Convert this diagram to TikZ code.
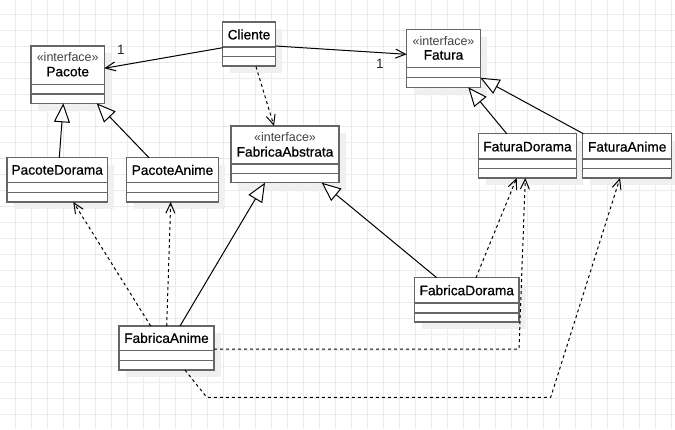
\documentclass[tikz,border=0pt]{standalone}
\usepackage{fontspec}
\setmainfont{Liberation Sans}
\newfontfamily\namefont[FakeBold=0.6]{Liberation Sans}
\usetikzlibrary{arrows.meta,calc}
\tikzset{
  gridline/.style={draw=black!8, line width=1pt},
  shadowfill/.style={fill=black!6},
  classbox/.style={draw=black!60, line width=1.3pt, fill=white, inner sep=0pt, outer sep=0pt},
  divider/.style={draw=black!60, line width=1.3pt},
  cname/.style={font=\namefont\fontsize{13.7}{16}\selectfont, text=black, inner sep=0pt},
  stereo/.style={font=\fontsize{12.5}{14}\selectfont, text=black!75, inner sep=0pt},
  mult/.style={font=\fontsize{13.5}{16}\selectfont, text=black!85, inner sep=0pt},
  assoc/.style={draw=black, line width=1pt, -{Straight Barb[length=10pt,width=9pt]}},
  dep/.style={assoc, dash pattern=on 3pt off 3pt},
  gen/.style={draw=black, line width=1pt, -{Triangle[fill=white,length=19pt,width=16pt]}}
}
% #1 name, #2 x1, #3 y1, #4 x2, #5 y2, #6 first divider, #7 second divider
\newcommand\umlclassbox[7]{%
  \fill[shadowfill] (#2+7,#3+7) rectangle (#4+7,#5+7);
  \node[classbox, anchor=north west, minimum width=#4pt-#2pt, minimum height=#5pt-#3pt] (#1) at (#2,#3) {};
  \draw[divider] (#2,#6) -- (#4,#6);
  \draw[divider] (#2,#7) -- (#4,#7);
}
\begin{document}
\begin{tikzpicture}[x=1pt,y=-1pt]
\useasboundingbox (0,0) rectangle (675,429);
\fill[white] (0,0) rectangle (675,429);
% grid
\foreach \gx in {0,...,41} { \draw[gridline] (15.7+16*\gx,0) -- (15.7+16*\gx,429); }
\foreach \gy in {0,...,26} { \draw[gridline] (0,14.5+16*\gy) -- (675,14.5+16*\gy); }

% classes
\umlclassbox{pacote}{31}{46}{104.3}{103.3}{84.3}{94}
\node[stereo] (pacoteS) at (67.7,56.7) {«interface»};
\node[cname] (pacoteN) at (67.7,71.7) {Pacote};

\umlclassbox{cliente}{222.7}{22}{275.3}{66}{47}{56.7}
\node[cname] (clienteN) at (249,34.5) {Cliente};

\umlclassbox{pdorama}{7}{157.7}{107.3}{202}{182.7}{192.3}
\node[cname] (pdoramaN) at (57.2,170) {PacoteDorama};

\umlclassbox{panime}{126.7}{157.7}{218.3}{202}{182.7}{192.3}
\node[cname] (panimeN) at (172.5,170) {PacoteAnime};

\umlclassbox{fabs}{231}{126}{339}{182.7}{164}{173.3}
\node[stereo] (fabsS) at (285,136.7) {«interface»};
\node[cname] (fabsN) at (285,151.7) {FabricaAbstrata};

\umlclassbox{fatura}{406.7}{29.7}{480.3}{87.3}{67.7}{77.7}
\node[stereo] (faturaS) at (443.5,40.7) {«interface»};
\node[cname] (faturaN) at (443.5,55) {Fatura};

\umlclassbox{fdorama}{478.7}{133.7}{576.3}{178}{159}{168.3}
\node[cname] (fdoramaN) at (527.5,146.7) {FaturaDorama};

\umlclassbox{fanime}{582.7}{133.7}{671.7}{178}{159}{168.3}
\node[cname] (fanimeN) at (627.2,146.7) {FaturaAnime};

\umlclassbox{fbdorama}{414.7}{277.7}{519}{322}{303}{313}
\node[cname] (fbdoramaN) at (466.8,290.3) {FabricaDorama};

\umlclassbox{fbanime}{119}{326}{214}{370}{350.7}{360.7}
\node[cname] (fbanimeN) at (166.5,338) {FabricaAnime};

% associations
\draw[assoc] ($(cliente.north west)+(0,25.7)$) -- ($(pacote.north east)+(0,22.3)$);
\node[mult] (m1) at (121,50) {1};
\draw[assoc] ($(cliente.north east)+(0,24)$) -- ($(fatura.north west)+(0,24.6)$);
\node[mult] (m2) at (380,64) {1};
\draw[dep] ($(cliente.south west)+(33.3,0.7)$) -- ($(fabs.north west)+(43,0)$);

% generalizations
\draw[gen] ($(pdorama.north west)+(52.3,0)$) -- ($(pacote.south west)+(32.3,0)$);
\draw[gen] ($(panime.north west)+(22.3,0)$) -- ($(pacote.south west)+(65.7,0)$);
\draw[gen] ($(fdorama.north west)+(28,0)$) -- ($(fatura.south west)+(61.6,0)$);
\draw[gen] ($(fanime.north west)+(0.6,0)$) -- ($(fatura.north east)+(0,48)$);
\draw[gen] ($(fbanime.north west)+(61,0)$) -- ($(fabs.south west)+(34,0)$);
\draw[gen] ($(fbdorama.north west)+(22,0)$) -- ($(fabs.south west)+(90.7,0)$);

% dependencies
\draw[dep] ($(fbanime.north west)+(31.7,0)$) -- ($(pdorama.south west)+(66.3,0)$);
\draw[dep] ($(fbanime.north west)+(47.7,0)$) -- ($(panime.south west)+(44,0)$);
\draw[dep] ($(fbdorama.north west)+(61.3,0)$) -- ($(fdorama.south west)+(38,0)$);
\coordinate (c1) at (519,349);
\draw[dep] ($(fbanime.north east)+(0,23)$) -- (c1) -- ($(fdorama.south west)+(46.6,0)$);
\coordinate (c2) at (206.7,397.3);
\coordinate (c3) at (550.7,397.3);
\draw[dep] ($(fbanime.south west)+(66,0)$) -- (c2) -- (c3) -- ($(fanime.south west)+(37.3,0)$);
\end{tikzpicture}
\end{document}
